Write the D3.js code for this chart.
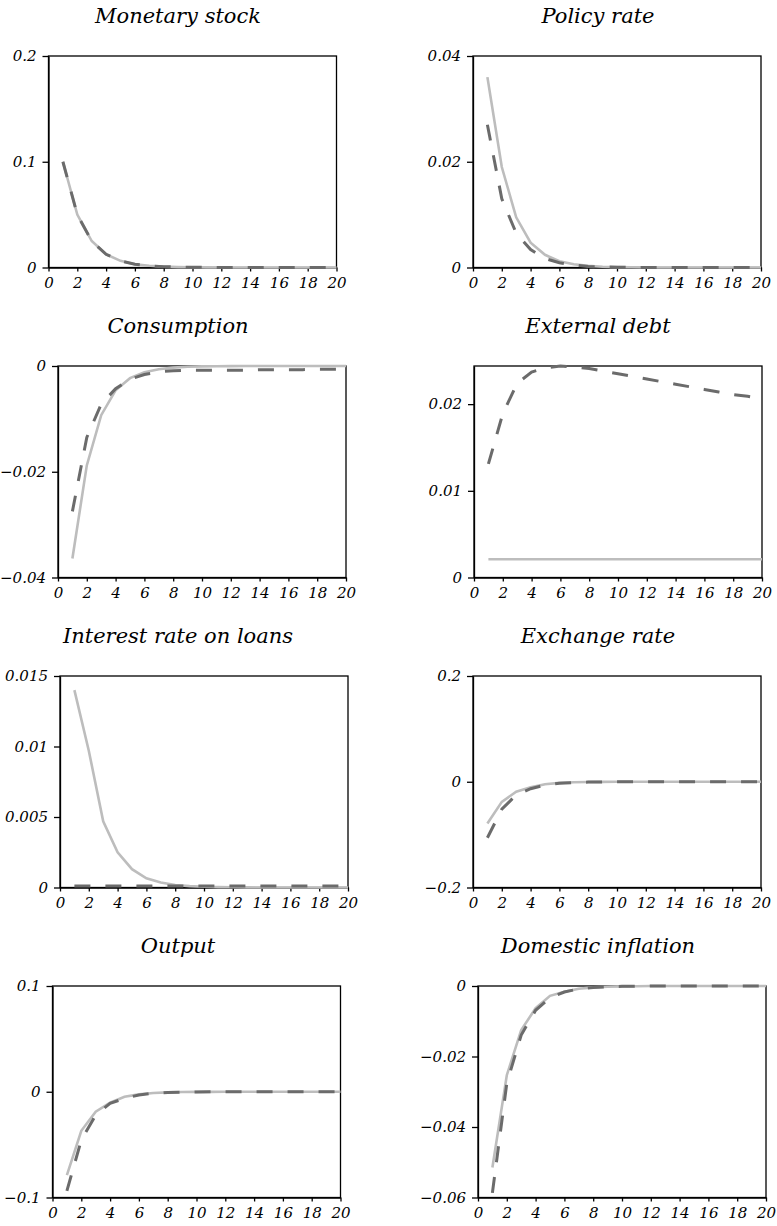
<!DOCTYPE html>
<html>
<head>
<meta charset="utf-8">
<script src="https://cdn.jsdelivr.net/npm/d3@7"></script>
<style>
    body { margin: 0; background: #fff; }
    .title { font-family: "DejaVu Serif", serif; font-style: italic; font-size: 21px; fill: #000; }
</style>
</head>
<body>
<div id="chart"></div>
<script>
// periods 1..20
const periods = [1, 2, 3, 4, 5, 6, 7, 8, 9, 10, 11, 12, 13, 14, 15, 16, 17, 18, 19, 20];
const xTicks = [0, 2, 4, 6, 8, 10, 12, 14, 16, 18, 20];

const titles = ["Monetary stock", "Policy rate", "Consumption", "External debt",
    "Interest rate on loans", "Exchange rate", "Output", "Domestic inflation"];

// solid = light grey line, dashed = dark grey line
const monetarySolid = [0.1, 0.05, 0.025, 0.0125, 0.0063, 0.0031, 0.0016, 0.0008, 0.0004, 0.0002, 0.0001, 0.00005, 0, 0, 0, 0, 0, 0, 0, 0];
const monetaryDashed = [0.1, 0.05, 0.025, 0.0125, 0.0063, 0.0031, 0.0016, 0.0008, 0.0004, 0.0002, 0.0001, 0.00005, 0, 0, 0, 0, 0, 0, 0, 0];

const policySolid = [0.036, 0.019, 0.0095, 0.0047, 0.0024, 0.0012, 0.0006, 0.0003, 0.00015, 0.00008, 0.00004, 0.00002, 0, 0, 0, 0, 0, 0, 0, 0];
const policyDashed = [0.027, 0.013, 0.0065, 0.0034, 0.0017, 0.0009, 0.00045, 0.0002, 0.0001, 0.00005, 0.00002, 0, 0, 0, 0, 0, 0, 0, 0, 0];

const consumptionSolid = [-0.0364, -0.0188, -0.0093, -0.0046, -0.0023, -0.0012, -0.0006, -0.0003, -0.00015, -0.00008, -0.00004, -0.00002, 0, 0, 0, 0, 0, 0, 0, 0];
const consumptionDashed = [-0.0275, -0.0135, -0.0072, -0.0043, -0.0025, -0.0016, -0.0011, -0.0009, -0.0008, -0.0008, -0.0008, -0.0008, -0.0008, -0.0007, -0.0007, -0.0007, -0.0007, -0.0006, -0.0006, -0.0006];

const debtSolid = [0.0021, 0.0021, 0.0021, 0.0021, 0.0021, 0.0021, 0.0021, 0.0021, 0.0021, 0.0021, 0.0021, 0.0021, 0.0021, 0.0021, 0.0021, 0.0021, 0.0021, 0.0021, 0.0021, 0.0021];
const debtDashed = [0.0131, 0.0189, 0.0224, 0.0237, 0.0242, 0.0244, 0.0243, 0.0241, 0.0238, 0.0235, 0.0232, 0.0229, 0.0226, 0.0223, 0.0220, 0.0217, 0.0214, 0.0211, 0.0209, 0.0206];

const loansSolid = [0.014, 0.0097, 0.0047, 0.0025, 0.0013, 0.00065, 0.00035, 0.00018, 0.0001, 0.00005, 0.00003, 0.00002, 0.00001, 0, 0, 0, 0, 0, 0, 0];
const loansDashed = [0.0001, 0.0001, 0.0001, 0.0001, 0.0001, 0.0001, 0.0001, 0.0001, 0.0001, 0.0001, 0.0001, 0.0001, 0.0001, 0.0001, 0.0001, 0.0001, 0.0001, 0.0001, 0.0001, 0.0001];

const exchangeSolid = [-0.079, -0.038, -0.019, -0.0106, -0.0048, -0.0022, -0.001, -0.0005, -0.0002, -0.0001, 0, 0, 0, 0, 0, 0, 0, 0, 0, 0];
const exchangeDashed = [-0.106, -0.052, -0.025, -0.0132, -0.0063, -0.003, -0.0015, -0.0007, -0.0003, -0.0002, -0.0001, 0, 0, 0, 0, 0, 0, 0, 0, 0];

const outputSolid = [-0.0788, -0.0369, -0.0189, -0.0104, -0.0047, -0.0025, -0.0012, -0.0006, -0.0003, -0.00015, -0.0001, 0, 0, 0, 0, 0, 0, 0, 0, 0];
const outputDashed = [-0.0937, -0.0457, -0.022, -0.011, -0.0063, -0.003, -0.0015, -0.0007, -0.0004, -0.0002, -0.0001, 0, 0, 0, 0, 0, 0, 0, 0, 0];

const inflationSolid = [-0.0515, -0.0253, -0.0125, -0.0063, -0.0028, -0.0016, -0.0008, -0.0004, -0.0002, -0.0001, -0.00005, 0, 0, 0, 0, 0, 0, 0, 0, 0];
const inflationDashed = [-0.0587, -0.0276, -0.0139, -0.0069, -0.0033, -0.0017, -0.0008, -0.0004, -0.0002, -0.0001, -0.00005, 0, 0, 0, 0, 0, 0, 0, 0, 0];

// y axis ranges, tick values and their labels
const yDomains = [[0, 0.2], [0, 0.04], [-0.04, 0], [0, 0.0244], [0, 0.015], [-0.2, 0.2], [-0.1, 0.1], [-0.06, 0]];
const yTicks = [[0, 0.1, 0.2], [0, 0.02, 0.04], [-0.04, -0.02, 0], [0, 0.01, 0.02],
    [0, 0.005, 0.01, 0.015], [-0.2, 0, 0.2], [-0.1, 0, 0.1], [-0.06, -0.04, -0.02, 0]];
const yTickLabels = [["0", "0.1", "0.2"], ["0", "0.02", "0.04"], ["\u22120.04", "\u22120.02", "0"], ["0", "0.01", "0.02"],
    ["0", "0.005", "0.01", "0.015"], ["\u22120.2", "0", "0.2"], ["\u22120.1", "0", "0.1"], ["\u22120.06", "\u22120.04", "\u22120.02", "0"]];

const solidSeries = [monetarySolid, policySolid, consumptionSolid, debtSolid, loansSolid, exchangeSolid, outputSolid, inflationSolid];
const dashedSeries = [monetaryDashed, policyDashed, consumptionDashed, debtDashed, loansDashed, exchangeDashed, outputDashed, inflationDashed];

// layout: plot left edge per panel, row tops, title centres
const plotLeft = [48.5, 473, 58, 474, 60, 473, 52.5, 478];
const rowTop = [56, 366, 676, 986];
const titleX = [178, 598];
const plotW = 288, plotH = 211.5;

const svg = d3.select("#chart").append("svg")
    .attr("width", 777)
    .attr("height", 1226);

function styleAxis(g) {
    g.attr("font-family", "DejaVu Serif").attr("font-size", 15);
    g.select(".domain").attr("stroke-width", 1.3);
    g.selectAll(".tick line").attr("stroke-width", 1.3);
    g.selectAll(".tick text")
        .style("font-family", "'DejaVu Serif', serif")
        .style("font-style", "italic")
        .style("font-size", "15px")
        .attr("fill", "#000");
}

titles.forEach(function (title, i) {
    const col = i % 2, row = Math.floor(i / 2);
    const left = plotLeft[i], top = rowTop[row];

    const x = d3.scaleLinear().domain([0, 20]).range([left, left + plotW]);
    const y = d3.scaleLinear().domain(yDomains[i]).range([top + plotH, top]);

    svg.append("text")
        .attr("class", "title")
        .attr("x", titleX[col])
        .attr("y", top - 33)
        .attr("text-anchor", "middle")
        .text(title);

    // frame
    svg.append("rect")
        .attr("x", x(0))
        .attr("y", y.range()[1])
        .attr("width", x(20) - x(0))
        .attr("height", y.range()[0] - y.range()[1])
        .attr("fill", "none")
        .attr("stroke", "#000")
        .attr("stroke-width", 1.3);

    const labels = yTickLabels[i];
    svg.append("g")
        .attr("transform", "translate(" + x(0) + ",0)")
        .call(d3.axisLeft(y).tickValues(yTicks[i]).tickFormat((d, k) => labels[k])
            .tickSize(6).tickSizeOuter(0).tickPadding(6))
        .call(styleAxis);

    svg.append("g")
        .attr("transform", "translate(0," + y.range()[0] + ")")
        .call(d3.axisBottom(x).tickValues(xTicks).tickFormat(d3.format("d"))
            .tickSize(4).tickSizeOuter(0).tickPadding(6))
        .call(styleAxis);

    const line = d3.line()
        .x((d, k) => x(periods[k]))
        .y(d => y(d));

    svg.append("path")
        .datum(solidSeries[i])
        .attr("d", line)
        .attr("fill", "none")
        .attr("stroke", "#bdbdbd")
        .attr("stroke-width", 2.6);

    svg.append("path")
        .datum(dashedSeries[i])
        .attr("d", line)
        .attr("fill", "none")
        .attr("stroke", "#6b6b6b")
        .attr("stroke-width", 3)
        .attr("stroke-dasharray", "16,15");
});
</script>
</body>
</html>
